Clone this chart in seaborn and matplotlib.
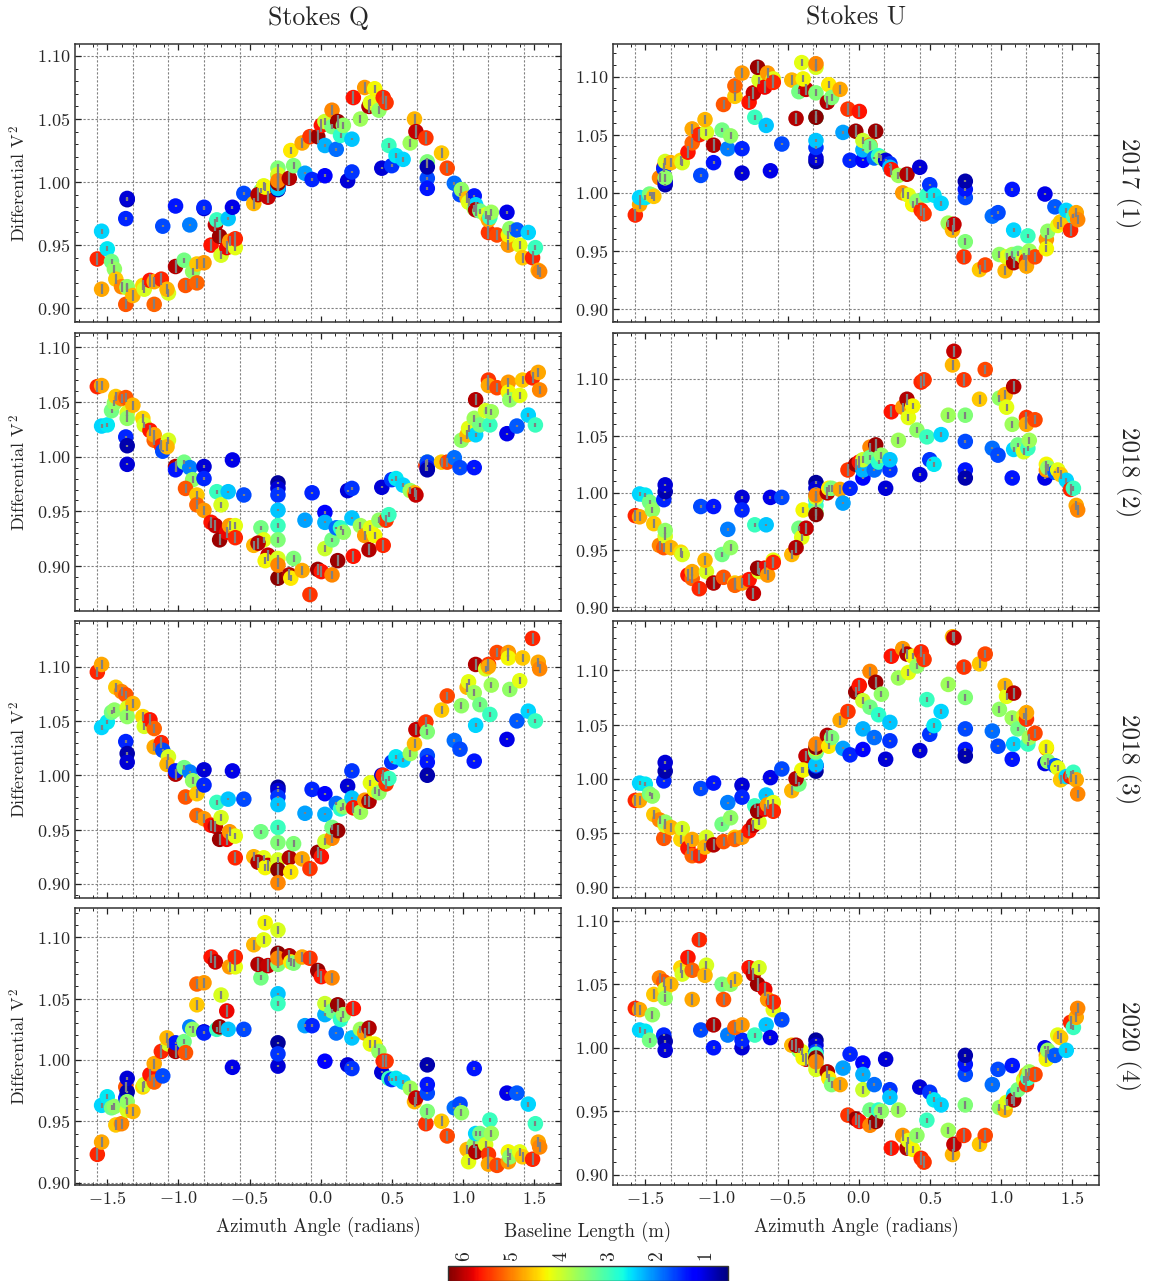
import numpy as np
import pandas as pd
import matplotlib
matplotlib.use("Agg")
import matplotlib.pyplot as plt
import seaborn as sns
from matplotlib.ticker import MultipleLocator
from matplotlib.colors import Normalize
from matplotlib.cm import ScalarMappable

# ---------------- data (shared baselines) ----------------
azimuth = [
    -1.57, -1.54, -1.54, -1.50, -1.47, -1.45, -1.44, -1.40, -1.37, -1.37,
    -1.36, -1.36, -1.36, -1.36, -1.32, -1.25, -1.24, -1.20, -1.17, -1.17,
    -1.12, -1.11, -1.07, -1.08, -1.02, -1.02, -0.96, -0.92, -0.90, -0.95,
    -0.87, -0.82, -0.82, -0.87, -0.82, -0.77, -0.74, -0.73, -0.70, -0.71,
    -0.66, -0.65, -0.64, -0.62, -0.60, -0.60, -0.54, -0.47, -0.42, -0.40,
    -0.44, -0.37, -0.39, -0.30, -0.30, -0.30, -0.30, -0.30, -0.30, -0.30,
    -0.30, -0.30, -0.22, -0.21, -0.19, -0.13, -0.11, -0.075, -0.06, -0.02,
    0.005, 0.03, 0.03, 0.03, 0.08, 0.08, 0.12, 0.11, 0.14, 0.16,
    0.19, 0.22, 0.22, 0.23, 0.28, 0.31, 0.34, 0.35, 0.38, 0.41,
    0.43, 0.44, 0.46, 0.48, 0.50, 0.53, 0.58, 0.63, 0.66, 0.67,
    0.74, 0.75, 0.75, 0.75, 0.75, 0.85, 0.89, 0.94, 0.98, 0.99,
    1.03, 1.04, 1.08, 1.08, 1.09, 1.09, 1.12, 1.16, 1.18, 1.18,
    1.19, 1.20, 1.24, 1.31, 1.32, 1.32, 1.33, 1.38, 1.40, 1.42,
    1.46, 1.49, 1.51, 1.53, 1.54]

baseline_length = [
    5.6, 4.8, 2.5, 2.6, 3.4, 3.6, 4.6, 5.0, 5.3, 1.5,
    0.8, 1.0, 4.1, 3.6, 4.7, 4.5, 4.1, 5.7, 5.2, 4.8,
    5.6, 1.7, 4.1, 4.7, 6.1, 1.4, 3.4, 2.0, 3.6, 5.3,
    4.6, 1.0, 1.5, 5.2, 4.9, 5.7, 6.0, 3.0, 4.1, 6.2,
    5.8, 2.4, 4.9, 1.1, 4.2, 5.6, 1.7, 4.7, 3.4, 4.2,
    6.1, 6.0, 4.3, 0.7, 1.0, 1.6, 2.4, 3.0, 3.5, 4.1,
    6.3, 5.0, 6.1, 4.4, 3.5, 4.8, 2.2, 5.5, 1.5, 6.2,
    5.7, 1.3, 2.3, 4.0, 5.0, 3.4, 6.2, 1.9, 2.9, 3.6,
    1.0, 1.6, 2.4, 5.7, 3.7, 4.9, 6.1, 4.2, 4.3, 3.6,
    1.0, 5.6, 5.5, 3.0, 1.6, 2.6, 2.5, 3.7, 4.7, 6.0,
    5.5, 3.5, 1.7, 1.4, 0.8, 4.6, 5.4, 1.9, 1.7, 3.6,
    4.7, 4.2, 3.7, 1.4, 2.5, 6.1, 3.4, 4.1, 5.5, 4.8,
    3.0, 3.7, 5.4, 1.1, 4.9, 4.3, 3.6, 1.8, 4.2, 4.6,
    2.5, 5.6, 3.0, 4.8, 5.0]

dv2_err = [
    .005, .004, .002, .002, .002, .003, .004, .004, .004, .001,
    .001, .001, .003, .003, .004, .004, .003, .005, .004, .004,
    .005, .001, .003, .004, .005, .001, .002, .001, .003, .004,
    .004, .001, .001, .004, .004, .005, .005, .002, .003, .005,
    .005, .001, .004, .001, .003, .005, .001, .004, .002, .003,
    .005, .005, .003, .001, .001, .001, .001, .002, .003, .003,
    .005, .004, .005, .003, .003, .004, .001, .005, .001, .005,
    .005, .001, .001, .003, .004, .002, .005, .001, .002, .003,
    .001, .001, .001, .005, .003, .004, .005, .003, .003, .003,
    .001, .005, .005, .002, .001, .002, .002, .003, .004, .005,
    .005, .003, .001, .001, .001, .004, .004, .001, .001, .003,
    .004, .003, .003, .001, .002, .005, .002, .003, .005, .004,
    .002, .003, .004, .001, .004, .003, .003, .001, .003, .004,
    .002, .005, .002, .004, .004]

q_2017 = [
    0.939, 0.915, 0.961, 0.947, 0.937, 0.931, 0.923, 0.917, 0.903, 0.971,
    0.986, 0.987, 0.916, 0.917, 0.910, 0.918, 0.915, 0.922, 0.903, 0.921,
    0.923, 0.965, 0.912, 0.915, 0.933, 0.981, 0.938, 0.966, 0.929, 0.918,
    0.935, 0.979, 0.980, 0.920, 0.936, 0.950, 0.966, 0.970, 0.942, 0.957,
    0.948, 0.971, 0.953, 0.980, 0.948, 0.955, 0.991, 0.983, 0.993, 0.997,
    0.990, 0.988, 0.996, 0.994, 0.996, 0.995, 0.995, 1.005, 1.011, 1.006,
    0.999, 1.001, 1.003, 1.025, 1.013, 1.031, 1.007, 1.036, 1.002, 1.036,
    1.045, 1.005, 1.029, 1.048, 1.057, 1.044, 1.048, 1.026, 1.037, 1.045,
    1.001, 1.008, 1.034, 1.067, 1.050, 1.075, 1.060, 1.063, 1.074, 1.057,
    1.011, 1.067, 1.063, 1.029, 1.013, 1.021, 1.018, 1.031, 1.050, 1.040,
    1.035, 1.016, 1.003, 0.995, 1.012, 1.023, 1.011, 0.999, 0.990, 0.994,
    0.987, 0.984, 0.979, 0.989, 0.982, 0.978, 0.977, 0.974, 0.960, 0.970,
    0.972, 0.976, 0.958, 0.976, 0.950, 0.958, 0.963, 0.962, 0.950, 0.940,
    0.960, 0.940, 0.948, 0.930, 0.929]

u_2017 = [
    0.981, 0.990, 0.996, 0.996, 0.999, 0.998, 0.997, 1.013, 1.022, 1.021,
    1.007, 1.010, 1.027, 1.013, 1.026, 1.028, 1.026, 1.035, 1.043, 1.055,
    1.050, 1.015, 1.052, 1.063, 1.041, 1.026, 1.054, 1.038, 1.049, 1.076,
    1.083, 1.017, 1.038, 1.092, 1.103, 1.078, 1.086, 1.065, 1.097, 1.108,
    1.091, 1.058, 1.103, 1.019, 1.098, 1.095, 1.042, 1.097, 1.087, 1.112,
    1.064, 1.089, 1.098, 1.027, 1.030, 1.039, 1.045, 1.065, 1.086, 1.108,
    1.065, 1.111, 1.078, 1.093, 1.082, 1.089, 1.052, 1.072, 1.028, 1.053,
    1.070, 1.028, 1.037, 1.045, 1.041, 1.040, 1.053, 1.030, 1.032, 1.030,
    1.028, 1.025, 1.022, 1.020, 1.015, 1.000, 1.016, 0.998, 0.990, 0.993,
    1.022, 0.985, 0.982, 0.998, 1.007, 0.998, 0.991, 0.974, 0.968, 0.973,
    0.945, 0.958, 0.996, 1.003, 1.010, 0.934, 0.938, 0.980, 0.983, 0.947,
    0.933, 0.945, 0.947, 1.003, 0.968, 0.940, 0.948, 0.945, 0.942, 0.937,
    0.963, 0.950, 0.945, 0.999, 0.960, 0.952, 0.967, 0.988, 0.972, 0.975,
    0.985, 0.968, 0.980, 0.983, 0.977]

q_2018a = [
    1.064, 1.065, 1.028, 1.029, 1.042, 1.049, 1.055, 1.053, 1.054, 1.018,
    1.010, 0.993, 1.040, 1.035, 1.047, 1.035, 1.029, 1.024, 1.015, 1.020,
    1.010, 1.005, 1.015, 1.009, 0.991, 0.988, 0.995, 0.990, 0.979, 0.971,
    0.965, 0.991, 0.980, 0.956, 0.951, 0.940, 0.937, 0.968, 0.956, 0.924,
    0.931, 0.968, 0.937, 0.997, 0.937, 0.926, 0.965, 0.919, 0.935, 0.924,
    0.921, 0.910, 0.905, 0.976, 0.971, 0.965, 0.951, 0.937, 0.924, 0.907,
    0.889, 0.901, 0.892, 0.889, 0.907, 0.896, 0.942, 0.874, 0.967, 0.897,
    0.895, 0.949, 0.940, 0.916, 0.892, 0.924, 0.905, 0.935, 0.935, 0.931,
    0.969, 0.971, 0.944, 0.909, 0.937, 0.928, 0.915, 0.935, 0.928, 0.942,
    0.972, 0.919, 0.942, 0.947, 0.979, 0.980, 0.974, 0.969, 0.967, 0.965,
    0.992, 0.995, 0.995, 0.990, 0.988, 0.995, 0.995, 0.999, 0.990, 1.015,
    1.020, 1.026, 1.035, 0.990, 1.020, 1.052, 1.029, 1.042, 1.070, 1.065,
    1.029, 1.041, 1.063, 1.021, 1.068, 1.059, 1.052, 1.028, 1.056, 1.070,
    1.038, 1.072, 1.029, 1.077, 1.061]

u_2018a = [
    0.980, 0.979, 0.999, 0.998, 0.992, 0.985, 0.973, 0.954, 0.952, 0.994,
    1.001, 1.007, 0.962, 0.967, 0.952, 0.948, 0.946, 0.928, 0.925, 0.931,
    0.916, 0.988, 0.931, 0.941, 0.921, 0.988, 0.946, 0.968, 0.952, 0.926,
    0.921, 0.996, 0.985, 0.919, 0.921, 0.924, 0.912, 0.972, 0.931, 0.934,
    0.934, 0.972, 0.928, 0.996, 0.941, 0.939, 0.996, 0.946, 0.969, 0.961,
    0.952, 0.969, 0.985, 1.009, 1.004, 0.998, 0.994, 0.989, 0.983, 0.996,
    0.981, 0.998, 1.000, 1.004, 1.004, 1.003, 0.991, 1.020, 1.004, 1.025,
    1.027, 1.013, 1.020, 1.029, 1.040, 1.031, 1.042, 1.020, 1.027, 1.033,
    1.004, 1.020, 1.029, 1.071, 1.046, 1.075, 1.082, 1.066, 1.076, 1.055,
    1.016, 1.097, 1.099, 1.049, 1.029, 1.025, 1.051, 1.068, 1.112, 1.124,
    1.099, 1.068, 1.045, 1.020, 1.013, 1.082, 1.108, 1.039, 1.033, 1.083,
    1.086, 1.075, 1.060, 1.013, 1.038, 1.093, 1.042, 1.036, 1.066, 1.060,
    1.039, 1.046, 1.064, 1.013, 1.020, 1.025, 1.022, 1.018, 1.020, 1.016,
    1.011, 1.003, 1.004, 0.989, 0.985]

q_2018b = [
    1.095, 1.102, 1.044, 1.049, 1.058, 1.060, 1.081, 1.077, 1.074, 1.031,
    1.020, 1.012, 1.062, 1.054, 1.066, 1.054, 1.045, 1.051, 1.043, 1.026,
    1.030, 1.023, 1.017, 1.010, 1.001, 1.004, 1.007, 1.003, 0.995, 0.980,
    0.983, 1.005, 0.991, 0.963, 0.960, 0.954, 0.953, 0.975, 0.961, 0.941,
    0.941, 0.978, 0.948, 1.004, 0.944, 0.924, 0.978, 0.925, 0.948, 0.924,
    0.920, 0.917, 0.915, 0.989, 0.986, 0.980, 0.973, 0.952, 0.938, 0.922,
    0.913, 0.901, 0.924, 0.911, 0.937, 0.923, 0.965, 0.914, 0.987, 0.929,
    0.925, 0.983, 0.964, 0.939, 0.942, 0.952, 0.949, 0.974, 0.969, 0.971,
    0.990, 1.004, 0.979, 0.970, 0.966, 0.977, 0.976, 0.993, 0.986, 0.984,
    1.000, 1.000, 0.992, 0.997, 1.012, 1.017, 1.014, 1.020, 1.029, 1.042,
    1.049, 1.040, 1.018, 1.012, 1.000, 1.060, 1.073, 1.032, 1.024, 1.064,
    1.081, 1.086, 1.076, 1.013, 1.046, 1.102, 1.065, 1.098, 1.102, 1.100,
    1.056, 1.083, 1.113, 1.033, 1.113, 1.108, 1.079, 1.050, 1.087, 1.108,
    1.059, 1.126, 1.050, 1.104, 1.098]

u_2018b = [
    0.980, 0.980, 0.996, 0.995, 0.986, 0.984, 0.967, 0.962, 0.945, 0.998,
    1.007, 1.015, 0.957, 0.960, 0.955, 0.944, 0.954, 0.936, 0.929, 0.944,
    0.929, 0.991, 0.946, 0.937, 0.939, 0.996, 0.958, 0.978, 0.964, 0.942,
    0.946, 0.994, 0.983, 0.944, 0.946, 0.952, 0.957, 0.975, 0.960, 0.970,
    0.972, 0.985, 0.976, 1.001, 0.978, 0.970, 1.009, 0.989, 0.995, 1.008,
    1.000, 1.021, 1.008, 1.007, 1.012, 1.012, 1.013, 1.024, 1.025, 1.028,
    1.029, 1.032, 1.040, 1.030, 1.038, 1.054, 1.028, 1.062, 1.022, 1.080,
    1.086, 1.027, 1.046, 1.072, 1.099, 1.066, 1.089, 1.038, 1.059, 1.078,
    1.018, 1.035, 1.052, 1.113, 1.093, 1.120, 1.115, 1.098, 1.113, 1.104,
    1.026, 1.117, 1.110, 1.073, 1.041, 1.049, 1.062, 1.087, 1.131, 1.130,
    1.103, 1.075, 1.046, 1.027, 1.021, 1.106, 1.115, 1.044, 1.030, 1.064,
    1.086, 1.076, 1.056, 1.018, 1.032, 1.079, 1.046, 1.058, 1.055, 1.061,
    1.032, 1.038, 1.042, 1.014, 1.028, 1.029, 1.016, 1.012, 1.010, 0.999,
    1.002, 1.002, 1.006, 0.999, 0.986]

q_2020 = [
    0.923, 0.933, 0.963, 0.970, 0.961, 0.962, 0.947, 0.948, 0.978, 0.969,
    0.974, 0.985, 0.959, 0.966, 0.958, 0.978, 0.980, 0.988, 0.982, 0.997,
    1.007, 0.987, 1.013, 1.018, 1.007, 1.014, 1.015, 1.027, 1.025, 1.006,
    1.045, 1.023, 1.022, 1.062, 1.063, 1.084, 1.080, 1.025, 1.053, 1.027,
    1.040, 1.025, 1.076, 0.994, 1.076, 1.084, 1.025, 1.094, 1.067, 1.098,
    1.078, 1.077, 1.112, 1.014, 0.995, 1.005, 1.054, 1.046, 1.078, 1.106,
    1.087, 1.083, 1.085, 1.080, 1.079, 1.084, 1.028, 1.083, 1.028, 1.073,
    1.068, 0.999, 1.037, 1.046, 1.067, 1.040, 1.045, 1.022, 1.033, 1.037,
    0.996, 0.993, 1.018, 1.042, 1.025, 1.022, 1.026, 1.013, 1.013, 1.007,
    0.990, 0.999, 0.999, 0.985, 0.984, 0.985, 0.982, 0.977, 0.966, 0.969,
    0.948, 0.958, 0.973, 0.980, 0.996, 0.950, 0.938, 0.961, 0.964, 0.957,
    0.927, 0.917, 0.931, 0.993, 0.940, 0.925, 0.940, 0.931, 0.923, 0.915,
    0.951, 0.940, 0.914, 0.973, 0.917, 0.925, 0.921, 0.973, 0.925, 0.921,
    0.964, 0.919, 0.948, 0.933, 0.929]

u_2020 = [
    1.031, 1.030, 1.014, 1.013, 1.006, 1.026, 1.042, 1.055, 1.052, 1.010,
    1.005, 0.998, 1.046, 1.039, 1.050, 1.063, 1.058, 1.071, 1.061, 1.038,
    1.085, 1.014, 1.065, 1.057, 1.018, 1.000, 1.050, 1.010, 1.050, 1.038,
    1.054, 1.000, 1.006, 1.016, 1.018, 1.063, 1.058, 1.010, 1.063, 1.050,
    1.046, 1.018, 1.038, 1.008, 1.030, 1.036, 1.022, 1.002, 0.998, 0.997,
    1.002, 0.991, 0.992, 1.006, 1.002, 0.997, 0.991, 0.995, 0.987, 0.983,
    0.992, 0.989, 0.981, 0.976, 0.971, 0.971, 0.984, 0.947, 0.995, 0.944,
    0.942, 0.988, 0.979, 0.967, 0.939, 0.951, 0.942, 0.971, 0.951, 0.950,
    0.991, 0.967, 0.961, 0.921, 0.951, 0.931, 0.921, 0.927, 0.920, 0.931,
    0.969, 0.913, 0.910, 0.943, 0.965, 0.959, 0.955, 0.935, 0.916, 0.924,
    0.931, 0.955, 0.979, 0.987, 0.994, 0.924, 0.931, 0.971, 0.983, 0.953,
    0.951, 0.957, 0.959, 0.986, 0.963, 0.959, 0.967, 0.975, 0.971, 0.979,
    0.976, 0.981, 0.979, 1.000, 0.994, 0.991, 0.998, 0.994, 1.010, 1.008,
    0.998, 1.020, 1.016, 1.024, 1.031]

epoch_labels = ["2017 (1)", "2018 (2)", "2018 (3)", "2020 (4)"]
column_titles = ["Stokes Q", "Stokes U"]
panel_values = [[q_2017, u_2017], [q_2018a, u_2018a], [q_2018b, u_2018b], [q_2020, u_2020]]
colorbar_ticks = [1, 2, 3, 4, 5, 6]

# ---------------- style ----------------
sns.set_style("ticks")
plt.rcParams.update({
    "font.family": "serif",
    "font.serif": ["cmr10", "DejaVu Serif"],
    "mathtext.fontset": "cm",
    "axes.formatter.use_mathtext": True,
    "axes.unicode_minus": True,
    "font.size": 13,
    "xtick.labelsize": 13,
    "ytick.labelsize": 13,
    "axes.linewidth": 1.1,
    "axes.edgecolor": "#333333",
})

jet = matplotlib.colormaps["jet"]
W, H = 1155, 1281
fig = plt.figure(figsize=(W / 100, H / 100), dpi=100)
col_left = [75, 613]
ax_w = 486
rows_px = [(44, 322), (333, 611), (621, 898), (908, 1185)]
ylims = [[(0.889, 1.1095), (0.889, 1.128)],
         [(0.859, 1.113), (0.8965, 1.140)],
         [(0.887, 1.142), (0.890, 1.1455)],
         [(0.898, 1.124), (0.892, 1.110)]]
xlim = (-1.727, 1.69)
grid_x = np.arange(-1.57, 1.5, 0.25)
norm = Normalize(0.56, 6.35)

for r in range(4):
    top, bot = rows_px[r]
    for c in range(2):
        ax = fig.add_axes([col_left[c] / W, 1 - bot / H, ax_w / W, (bot - top) / H])
        df = pd.DataFrame({"az": azimuth, "dv2": panel_values[r][c],
                           "L": baseline_length, "err": dv2_err})
        for g in grid_x:
            ax.axvline(g, color="0.5", ls=(0, (2, 1.6)), lw=0.8, zorder=0)
        ax.grid(axis="y", which="major", color="0.5", ls=(0, (2, 1.6)), lw=0.8)
        ax.grid(axis="x", which="both", visible=False)
        ax.set_axisbelow(True)
        sns.scatterplot(data=df, x="az", y="dv2", hue="L", palette=jet,
                        hue_norm=norm, s=125, linewidth=0, legend=False,
                        ax=ax, zorder=2)
        ax.errorbar(df["az"], df["dv2"], yerr=df["err"], fmt="none",
                    ecolor="#808080", elinewidth=1.6, capsize=0, zorder=3)
        ax.set_xlim(*xlim)
        ax.set_ylim(*ylims[r][c])
        ax.xaxis.set_major_locator(MultipleLocator(0.5))
        ax.xaxis.set_minor_locator(MultipleLocator(0.1))
        ax.yaxis.set_major_locator(MultipleLocator(0.05))
        ax.yaxis.set_minor_locator(MultipleLocator(0.01))
        ax.tick_params(which="both", direction="in", top=True, right=True,
                       labelsize=13, color="#222222")
        ax.tick_params(which="major", length=4.5, width=0.9)
        ax.tick_params(which="minor", length=2.2, width=0.7)
        if r < 3:
            ax.tick_params(labelbottom=False)
            ax.set_xlabel("")
        else:
            ax.set_xlabel("Azimuth Angle (radians)", fontsize=13.5, labelpad=7)
        if c == 0:
            ax.set_ylabel("Differential V$^2$", fontsize=13, labelpad=6)
        else:
            ax.set_ylabel("")
    fig.text(1128 / W, 1 - (top + bot) / 2 / H, epoch_labels[r], rotation=270,
             ha="center", va="center", fontsize=18)

for c in range(2):
    fig.text((col_left[c] + ax_w / 2) / W, 1 - 18 / H, column_titles[c],
             ha="center", va="center", fontsize=18.5)

# ---------------- colorbar ----------------
cax = fig.add_axes([448 / W, 0.0, 280 / W, 15 / H])
sm = ScalarMappable(norm=norm, cmap=jet)
cb = fig.colorbar(sm, cax=cax, orientation="horizontal")
cax.invert_xaxis()
cax.xaxis.set_ticks_position("top")
cax.xaxis.set_label_position("top")
cb.set_ticks(colorbar_ticks)
cax.xaxis.set_minor_locator(MultipleLocator(0.2))
cax.tick_params(which="both", direction="in", top=True, bottom=True, pad=3,
                labelsize=14, labelrotation=90)
cax.tick_params(which="major", length=4)
cax.tick_params(which="minor", length=2)
cb.set_label("Baseline Length (m)", fontsize=13.5, labelpad=10)
cb.outline.set_linewidth(1.0)

fig.savefig("out.png", dpi=100)
